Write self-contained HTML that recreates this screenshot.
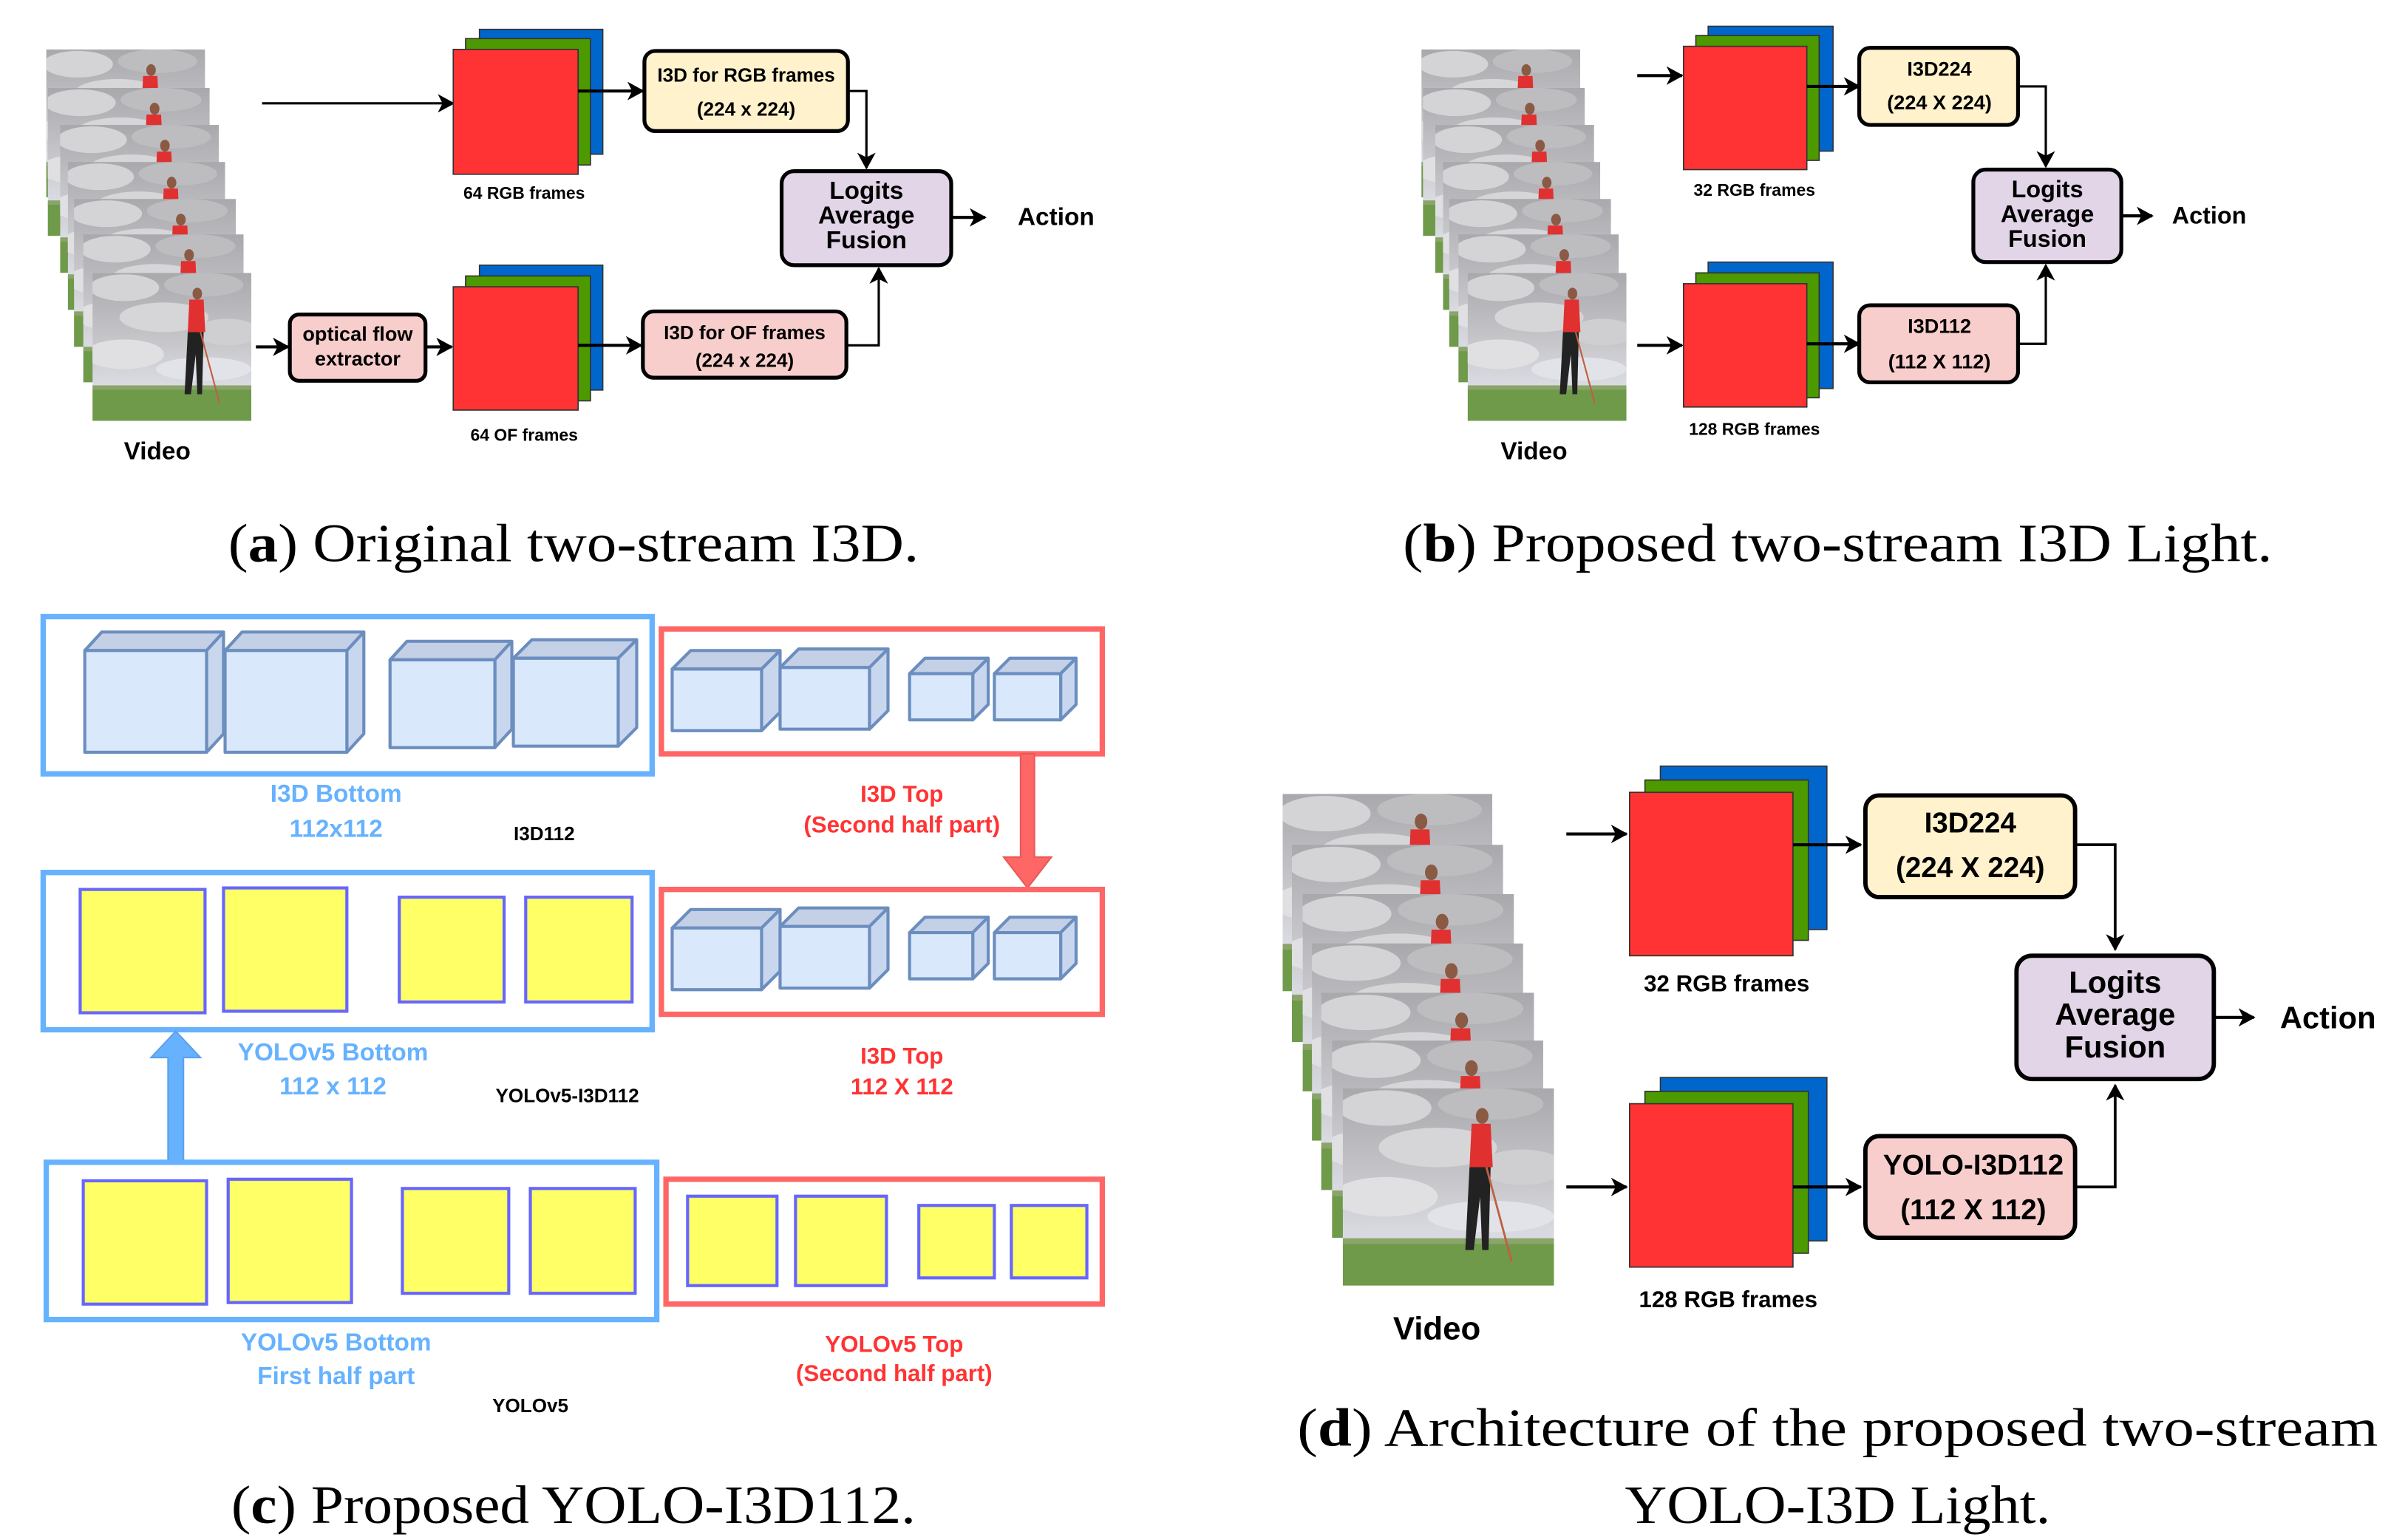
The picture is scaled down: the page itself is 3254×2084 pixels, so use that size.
<!DOCTYPE html>
<html><head><meta charset="utf-8"><style>
html,body{margin:0;padding:0;background:#fff;}
svg{display:block;}
.t{font-family:"Liberation Sans",sans-serif;font-weight:bold;text-anchor:middle;}
.c{font-family:"Liberation Serif",serif;text-anchor:middle;fill:#000;}
</style></head><body>
<svg xmlns="http://www.w3.org/2000/svg" width="3254" height="2084" viewBox="0 0 1560 999">
<defs>
<marker id="ah" markerUnits="userSpaceOnUse" markerWidth="12" markerHeight="12" refX="10" refY="6" orient="auto">
<path d="M0,0 L11,6 L0,12 L3,6 Z" fill="#000"/>
</marker>
<linearGradient id="sky" x1="0" y1="0" x2="0" y2="1">
<stop offset="0" stop-color="#a9a9ad"/><stop offset="0.5" stop-color="#c9c9cd"/><stop offset="0.75" stop-color="#d9dbe2"/><stop offset="1" stop-color="#c8ccd6"/>
</linearGradient>
<symbol id="frame" viewBox="0 0 100 100" preserveAspectRatio="none">
<rect x="0" y="0" width="100" height="100" fill="url(#sky)"/>
<ellipse cx="20" cy="10" rx="22" ry="9" fill="#d4d4d6"/>
<ellipse cx="70" cy="8" rx="25" ry="8" fill="#bdbdc0"/>
<ellipse cx="45" cy="30" rx="28" ry="10" fill="#d6d6d8"/>
<ellipse cx="85" cy="40" rx="20" ry="9" fill="#cfcfd2"/>
<ellipse cx="20" cy="55" rx="25" ry="10" fill="#e0e0e3"/>
<ellipse cx="70" cy="65" rx="30" ry="8" fill="#e2e3e8"/>
<rect x="0" y="78" width="100" height="22" fill="#6e9a4a"/>
<rect x="0" y="76" width="100" height="3" fill="#8aa46a"/>
<ellipse cx="66" cy="14" rx="3" ry="4" fill="#8a5a45"/>
<path d="M61,18 L70,18 L71,40 L60,40 Z" fill="#e03030"/>
<path d="M60,40 L70,40 L69,82 L66,82 L65,55 L62,82 L58,82 Z" fill="#222"/>
<path d="M68,40 L80,88" stroke="#c06040" stroke-width="1"/>
</symbol>
</defs>
<rect width="1560" height="999" fill="#fff"/>

<!-- ============ PANEL A ============ -->
<g>
<use href="#frame" x="30" y="32" width="103" height="96"/>
<use href="#frame" x="31" y="57" width="105" height="96"/>
<use href="#frame" x="39" y="81" width="103" height="96"/>
<use href="#frame" x="44" y="105" width="102" height="96"/>
<use href="#frame" x="48" y="129" width="105" height="96"/>
<use href="#frame" x="54" y="152" width="104" height="96"/>
<use href="#frame" x="60" y="177" width="103" height="96"/>
</g>
<text class="t" x="102" y="298" font-size="16">Video</text>
<line x1="170" y1="67" x2="294" y2="67" stroke="#000" stroke-width="1.5" marker-end="url(#ah)"/>
<rect x="311" y="19" width="80" height="81" fill="#0066cc" stroke="#333" stroke-width="0.8"/>
<rect x="302" y="25" width="81" height="82" fill="#4d9900" stroke="#333" stroke-width="0.8"/>
<rect x="294" y="32" width="81" height="81" fill="#ff3333" stroke="#333" stroke-width="0.8"/>
<text class="t" x="340" y="129" font-size="11">64 RGB frames</text>
<line x1="375" y1="59" x2="417" y2="59" stroke="#000" stroke-width="2" marker-end="url(#ah)"/>
<rect x="418" y="33" width="132" height="52" rx="7" fill="#fff2cc" stroke="#000" stroke-width="2.5"/>
<text class="t" x="484" y="53" font-size="12.5">I3D for RGB frames</text>
<text class="t" x="484" y="75" font-size="12.5">(224 x 224)</text>
<polyline points="550,59 562,59 562,109" fill="none" stroke="#000" stroke-width="1.5" marker-end="url(#ah)"/>
<rect x="507" y="111" width="110" height="61" rx="8" fill="#e1d5e7" stroke="#000" stroke-width="2.5"/>
<text class="t" x="562" y="129" font-size="16">Logits</text>
<text class="t" x="562" y="145" font-size="16">Average</text>
<text class="t" x="562" y="161" font-size="16">Fusion</text>
<line x1="617" y1="141" x2="639" y2="141" stroke="#000" stroke-width="2" marker-end="url(#ah)"/>
<text class="t" x="685" y="146" font-size="16">Action</text>
<line x1="166" y1="225" x2="187" y2="225" stroke="#000" stroke-width="2" marker-end="url(#ah)"/>
<rect x="188" y="204" width="88" height="43" rx="6" fill="#f8cecc" stroke="#000" stroke-width="2.5"/>
<text class="t" x="232" y="221" font-size="13">optical flow</text>
<text class="t" x="232" y="237" font-size="13">extractor</text>
<line x1="276" y1="225" x2="293" y2="225" stroke="#000" stroke-width="2" marker-end="url(#ah)"/>
<rect x="311" y="172" width="80" height="81" fill="#0066cc" stroke="#333" stroke-width="0.8"/>
<rect x="302" y="179" width="81" height="81" fill="#4d9900" stroke="#333" stroke-width="0.8"/>
<rect x="294" y="186" width="81" height="80" fill="#ff3333" stroke="#333" stroke-width="0.8"/>
<text class="t" x="340" y="286" font-size="11">64 OF frames</text>
<line x1="375" y1="224" x2="416" y2="224" stroke="#000" stroke-width="2" marker-end="url(#ah)"/>
<rect x="417" y="202" width="132" height="43" rx="7" fill="#f8cecc" stroke="#000" stroke-width="2.5"/>
<text class="t" x="483" y="220" font-size="12.5">I3D for OF frames</text>
<text class="t" x="483" y="238" font-size="12.5">(224 x 224)</text>
<polyline points="549,224 570,224 570,174" fill="none" stroke="#000" stroke-width="1.5" marker-end="url(#ah)"/>
<text class="c" x="372" y="364" font-size="35" textLength="448" lengthAdjust="spacingAndGlyphs">(<tspan font-weight="bold">a</tspan>) Original two-stream I3D.</text>

<!-- ============ PANEL B ============ -->
<g>
<use href="#frame" x="922" y="32" width="103" height="96"/>
<use href="#frame" x="923" y="57" width="105" height="96"/>
<use href="#frame" x="931" y="81" width="103" height="96"/>
<use href="#frame" x="936" y="105" width="102" height="96"/>
<use href="#frame" x="940" y="129" width="105" height="96"/>
<use href="#frame" x="946" y="152" width="104" height="96"/>
<use href="#frame" x="952" y="177" width="103" height="96"/>
</g>
<text class="t" x="995" y="298" font-size="16">Video</text>
<line x1="1062" y1="49" x2="1091" y2="49" stroke="#000" stroke-width="2" marker-end="url(#ah)"/>
<rect x="1108" y="17" width="81" height="81" fill="#0066cc" stroke="#333" stroke-width="0.8"/>
<rect x="1100" y="23" width="80" height="81" fill="#4d9900" stroke="#333" stroke-width="0.8"/>
<rect x="1092" y="30" width="80" height="80" fill="#ff3333" stroke="#333" stroke-width="0.8"/>
<text class="t" x="1138" y="127" font-size="11">32 RGB frames</text>
<line x1="1172" y1="56" x2="1206" y2="56" stroke="#000" stroke-width="2" marker-end="url(#ah)"/>
<rect x="1206" y="31" width="103" height="50" rx="7" fill="#fff2cc" stroke="#000" stroke-width="2.5"/>
<text class="t" x="1258" y="49" font-size="13">I3D224</text>
<text class="t" x="1258" y="71" font-size="13">(224 X 224)</text>
<polyline points="1309,56 1327,56 1327,108" fill="none" stroke="#000" stroke-width="1.5" marker-end="url(#ah)"/>
<rect x="1280" y="110" width="96" height="60" rx="8" fill="#e1d5e7" stroke="#000" stroke-width="2.5"/>
<text class="t" x="1328" y="128" font-size="15.5">Logits</text>
<text class="t" x="1328" y="144" font-size="15.5">Average</text>
<text class="t" x="1328" y="160" font-size="15.5">Fusion</text>
<line x1="1376" y1="140" x2="1396" y2="140" stroke="#000" stroke-width="2" marker-end="url(#ah)"/>
<text class="t" x="1433" y="145" font-size="15.5">Action</text>
<line x1="1062" y1="224" x2="1091" y2="224" stroke="#000" stroke-width="2" marker-end="url(#ah)"/>
<rect x="1108" y="170" width="81" height="82" fill="#0066cc" stroke="#333" stroke-width="0.8"/>
<rect x="1100" y="177" width="80" height="81" fill="#4d9900" stroke="#333" stroke-width="0.8"/>
<rect x="1092" y="184" width="80" height="80" fill="#ff3333" stroke="#333" stroke-width="0.8"/>
<text class="t" x="1138" y="282" font-size="11">128 RGB frames</text>
<line x1="1172" y1="223" x2="1206" y2="223" stroke="#000" stroke-width="2" marker-end="url(#ah)"/>
<rect x="1206" y="198" width="103" height="50" rx="7" fill="#f8cecc" stroke="#000" stroke-width="2.5"/>
<text class="t" x="1258" y="216" font-size="13">I3D112</text>
<text class="t" x="1258" y="239" font-size="13">(112 X 112)</text>
<polyline points="1309,223 1327,223 1327,172" fill="none" stroke="#000" stroke-width="1.5" marker-end="url(#ah)"/>
<text class="c" x="1192" y="364" font-size="35" textLength="564" lengthAdjust="spacingAndGlyphs">(<tspan font-weight="bold">b</tspan>) Proposed two-stream I3D Light.</text>

<!-- ============ PANEL C ============ -->
<g id="cubes1" stroke="#6c8ebf" stroke-width="2" stroke-linejoin="round">
</g>
<rect x="28" y="400" width="395" height="102" fill="none" stroke="#66b2ff" stroke-width="3.5"/>
<g stroke="#6c8ebf" stroke-width="2" stroke-linejoin="round">
<!-- big cubes -->
<path d="M55,422 L66,410 L145,410 L134,422 Z" fill="#c3d0e6"/><path d="M134,422 L145,410 L145,476 L134,488 Z" fill="#c9d7ee"/><rect x="55" y="422" width="79" height="66" fill="#dae8fc"/>
<path d="M146,422 L157,410 L236,410 L225,422 Z" fill="#c3d0e6"/><path d="M225,422 L236,410 L236,476 L225,488 Z" fill="#c9d7ee"/><rect x="146" y="422" width="79" height="66" fill="#dae8fc"/>
<path d="M253,428 L264,416 L332,416 L321,428 Z" fill="#c3d0e6"/><path d="M321,428 L332,416 L332,473 L321,485 Z" fill="#c9d7ee"/><rect x="253" y="428" width="68" height="57" fill="#dae8fc"/>
<path d="M333,427 L345,415 L413,415 L401,427 Z" fill="#c3d0e6"/><path d="M401,427 L413,415 L413,472 L401,484 Z" fill="#c9d7ee"/><rect x="333" y="427" width="68" height="57" fill="#dae8fc"/>
</g>
<rect x="429" y="408" width="286" height="81" fill="none" stroke="#ff6666" stroke-width="3.5"/>
<g id="smallcubes" stroke="#6c8ebf" stroke-width="2" stroke-linejoin="round">
<path d="M436,434 L448,422 L506,422 L494,434 Z" fill="#c3d0e6"/><path d="M494,434 L506,422 L506,462 L494,474 Z" fill="#c9d7ee"/><rect x="436" y="434" width="58" height="40" fill="#dae8fc"/>
<path d="M506,433 L518,421 L576,421 L564,433 Z" fill="#c3d0e6"/><path d="M564,433 L576,421 L576,461 L564,473 Z" fill="#c9d7ee"/><rect x="506" y="433" width="58" height="40" fill="#dae8fc"/>
<path d="M590,437 L600,427 L641,427 L631,437 Z" fill="#c3d0e6"/><path d="M631,437 L641,427 L641,457 L631,467 Z" fill="#c9d7ee"/><rect x="590" y="437" width="41" height="30" fill="#dae8fc"/>
<path d="M645,437 L655,427 L698,427 L688,437 Z" fill="#c3d0e6"/><path d="M688,437 L698,427 L698,457 L688,467 Z" fill="#c9d7ee"/><rect x="645" y="437" width="43" height="30" fill="#dae8fc"/>
</g>
<use href="#smallcubes" x="0" y="168"/>
<text class="t" x="218" y="520" font-size="16" fill="#66b2ff">I3D Bottom</text>
<text class="t" x="218" y="543" font-size="16" fill="#66b2ff">112x112</text>
<text class="t" x="353" y="545" font-size="12.5" fill="#000">I3D112</text>
<text class="t" x="585" y="520" font-size="15" fill="#ff3333">I3D Top</text>
<text class="t" x="585" y="540" font-size="15" fill="#ff3333">(Second half part)</text>
<path d="M662,489 L671,489 L671,556 L682,556 L666.5,576 L651,556 L662,556 Z" fill="#ff6666" stroke="#e85858" stroke-width="1"/>
<rect x="28" y="566" width="395" height="102" fill="none" stroke="#66b2ff" stroke-width="3.5"/>
<g fill="#ffff66" stroke="#6666ff" stroke-width="2">
<rect x="52" y="577" width="81" height="80"/><rect x="145" y="576" width="80" height="80"/>
<rect x="259" y="582" width="68" height="68"/><rect x="341" y="582" width="69" height="68"/>
</g>
<rect x="429" y="577" width="286" height="81" fill="none" stroke="#ff6666" stroke-width="3.5"/>
<text class="t" x="216" y="688" font-size="16" fill="#66b2ff">YOLOv5 Bottom</text>
<text class="t" x="216" y="710" font-size="16" fill="#66b2ff">112 x 112</text>
<text class="t" x="368" y="715" font-size="12.5" fill="#000">YOLOv5-I3D112</text>
<text class="t" x="585" y="690" font-size="15" fill="#ff3333">I3D Top</text>
<text class="t" x="585" y="710" font-size="15" fill="#ff3333">112 X 112</text>
<path d="M109,753 L119,753 L119,686 L130,686 L114,669 L98,686 L109,686 Z" fill="#66b2ff" stroke="#5aa0ee" stroke-width="1"/>
<rect x="30" y="754" width="396" height="102" fill="none" stroke="#66b2ff" stroke-width="3.5"/>
<g fill="#ffff66" stroke="#6666ff" stroke-width="2">
<rect x="54" y="766" width="80" height="80"/><rect x="148" y="765" width="80" height="80"/>
<rect x="261" y="771" width="69" height="68"/><rect x="344" y="771" width="68" height="68"/>
<rect x="446" y="776" width="58" height="58"/><rect x="516" y="776" width="59" height="58"/>
<rect x="596" y="782" width="49" height="47"/><rect x="656" y="782" width="49" height="47"/>
</g>
<rect x="432" y="765" width="283" height="81" fill="none" stroke="#ff6666" stroke-width="3.5"/>
<text class="t" x="218" y="876" font-size="16" fill="#66b2ff">YOLOv5 Bottom</text>
<text class="t" x="218" y="898" font-size="16" fill="#66b2ff">First half part</text>
<text class="t" x="344" y="916" font-size="12.5" fill="#000">YOLOv5</text>
<text class="t" x="580" y="877" font-size="15" fill="#ff3333">YOLOv5 Top</text>
<text class="t" x="580" y="896" font-size="15" fill="#ff3333">(Second half part)</text>
<text class="c" x="372" y="988" font-size="35" textLength="444" lengthAdjust="spacingAndGlyphs">(<tspan font-weight="bold">c</tspan>) Proposed YOLO-I3D112.</text>

<!-- ============ PANEL D ============ -->
<g>
<use href="#frame" x="832" y="515" width="136" height="128"/>
<use href="#frame" x="838" y="548" width="137" height="128"/>
<use href="#frame" x="845" y="580" width="137" height="128"/>
<use href="#frame" x="851" y="612" width="137" height="128"/>
<use href="#frame" x="857" y="644" width="138" height="128"/>
<use href="#frame" x="864" y="675" width="137" height="128"/>
<use href="#frame" x="871" y="706" width="137" height="128"/>
</g>
<text class="t" x="932" y="869" font-size="21">Video</text>
<line x1="1016" y1="541" x2="1055" y2="541" stroke="#000" stroke-width="2" marker-end="url(#ah)"/>
<rect x="1077" y="497" width="108" height="106" fill="#0066cc" stroke="#333" stroke-width="0.8"/>
<rect x="1067" y="506" width="106" height="104" fill="#4d9900" stroke="#333" stroke-width="0.8"/>
<rect x="1057" y="514" width="106" height="106" fill="#ff3333" stroke="#333" stroke-width="0.8"/>
<text class="t" x="1120" y="643" font-size="15">32 RGB frames</text>
<line x1="1163" y1="548" x2="1207" y2="548" stroke="#000" stroke-width="2" marker-end="url(#ah)"/>
<rect x="1210" y="516" width="136" height="66" rx="9" fill="#fff2cc" stroke="#000" stroke-width="2.8"/>
<text class="t" x="1278" y="540" font-size="18.5">I3D224</text>
<text class="t" x="1278" y="569" font-size="18.5">(224 X 224)</text>
<polyline points="1346,548 1372,548 1372,616" fill="none" stroke="#000" stroke-width="1.8" marker-end="url(#ah)"/>
<rect x="1308" y="620" width="128" height="80" rx="10" fill="#e1d5e7" stroke="#000" stroke-width="2.8"/>
<text class="t" x="1372" y="644" font-size="20">Logits</text>
<text class="t" x="1372" y="665" font-size="20">Average</text>
<text class="t" x="1372" y="686" font-size="20">Fusion</text>
<line x1="1436" y1="660" x2="1462" y2="660" stroke="#000" stroke-width="2" marker-end="url(#ah)"/>
<text class="t" x="1510" y="667" font-size="20">Action</text>
<line x1="1016" y1="770" x2="1055" y2="770" stroke="#000" stroke-width="2" marker-end="url(#ah)"/>
<rect x="1077" y="699" width="108" height="106" fill="#0066cc" stroke="#333" stroke-width="0.8"/>
<rect x="1067" y="708" width="106" height="105" fill="#4d9900" stroke="#333" stroke-width="0.8"/>
<rect x="1057" y="716" width="106" height="106" fill="#ff3333" stroke="#333" stroke-width="0.8"/>
<text class="t" x="1121" y="848" font-size="15">128 RGB frames</text>
<line x1="1163" y1="770" x2="1207" y2="770" stroke="#000" stroke-width="2" marker-end="url(#ah)"/>
<rect x="1210" y="737" width="136" height="66" rx="9" fill="#f8cecc" stroke="#000" stroke-width="2.8"/>
<text class="t" x="1280" y="762" font-size="18.5">YOLO-I3D112</text>
<text class="t" x="1280" y="791" font-size="18.5">(112 X 112)</text>
<polyline points="1346,770 1372,770 1372,704" fill="none" stroke="#000" stroke-width="1.8" marker-end="url(#ah)"/>
<text class="c" x="1192" y="938" font-size="35" textLength="701" lengthAdjust="spacingAndGlyphs">(<tspan font-weight="bold">d</tspan>) Architecture of the proposed two-stream</text>
<text class="c" x="1192" y="988" font-size="35" textLength="276" lengthAdjust="spacingAndGlyphs">YOLO-I3D Light.</text>
</svg>
</body></html>
